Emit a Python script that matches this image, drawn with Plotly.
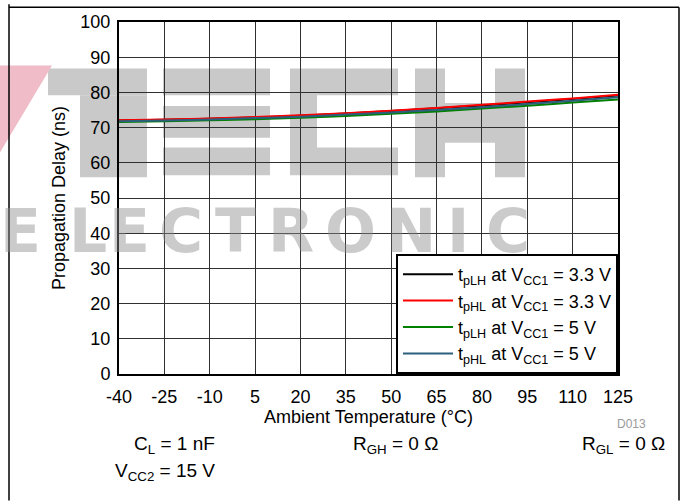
import plotly.graph_objects as go

# ambient temperature (°C) and propagation delay (ns)
temperature = [-40, -25, -10, 5, 20, 35, 50, 65, 80, 95, 110, 125]
tplh_33 = [72.0, 72.2, 72.5, 72.9, 73.4, 74.0, 74.7, 75.5, 76.3, 77.2, 78.1, 79.1]
tphl_33 = [72.1, 72.3, 72.6, 73.0, 73.5, 74.1, 74.8, 75.6, 76.5, 77.4, 78.3, 79.3]
tplh_5 = [71.6, 71.8, 72.1, 72.4, 72.8, 73.3, 73.9, 74.6, 75.4, 76.2, 77.1, 78.0]
tphl_5 = [71.8, 72.0, 72.3, 72.7, 73.1, 73.7, 74.3, 75.0, 75.8, 76.7, 77.6, 78.6]

x_ticks = [-40, -25, -10, 5, 20, 35, 50, 65, 80, 95, 110, 125]
y_ticks = [0, 10, 20, 30, 40, 50, 60, 70, 80, 90, 100]

series = [
    ('t<sub>pLH</sub> at V<sub>CC1</sub> = 3.3 V', tplh_33, '#000000'),
    ('t<sub>pHL</sub> at V<sub>CC1</sub> = 3.3 V', tphl_33, '#ff0000'),
    ('t<sub>pLH</sub> at V<sub>CC1</sub> = 5 V', tplh_5, '#008000'),
    ('t<sub>pHL</sub> at V<sub>CC1</sub> = 5 V', tphl_5, '#2c5f7c'),
]

FONT = 'Arial, Liberation Sans, sans-serif'
WM_GRAY = '#c9c9c9'

fig = go.Figure()
for name, values, color in series:
    fig.add_trace(go.Scatter(x=temperature, y=values, mode='lines', name=name,
                             line=dict(color=color, width=2, shape='spline')))

W, H = 683, 502
L, R, T, B = 119, 65, 18, 128
pw, ph = W - L - R, H - T - B


def px(x):
    return (x - L) / pw


def py(y):
    return (H - B - y) / ph


def block(x0, y0, x1, y1, color=WM_GRAY):
    return dict(type='rect', xref='paper', yref='paper', layer='below',
                x0=px(x0), x1=px(x1), y0=py(y1), y1=py(y0),
                fillcolor=color, line=dict(width=0))


shapes = []
# "TECH" logo blocks of the watermark (pixel boxes)
tech_blocks = [
    (48, 65, 147, 92), (80, 92, 147, 175),
    (163, 65, 270, 92), (163, 103, 270, 135), (163, 145, 270, 173),
    (290, 65, 317, 173), (317, 65, 398, 92), (317, 145, 398, 173),
    (415, 65, 445, 175), (445, 100, 495, 140), (495, 65, 525, 175),
]
for b in tech_blocks:
    shapes.append(block(*b))
shapes.append(dict(type='path', xref='paper', yref='paper', layer='below',
                   path='M %f,%f L %f,%f L %f,%f Z' % (px(0), py(62), px(52), py(62),
                                                       px(0), py(150)),
                   fillcolor='#f0bcc8', line=dict(width=0)))
# outer frame of the figure
for x0, y0, x1, y1 in [(9, 0, 9, 502), (9, 3, 679, 3), (679, 3, 679, 502)]:
    shapes.append(dict(type='line', xref='paper', yref='paper',
                       x0=px(x0), x1=px(x1), y0=py(y0), y1=py(y1),
                       line=dict(color='black', width=1.5)))

annotations = []
# "ELECTRONIC" letters of the watermark, semi transparent so the grid shows through
letters = ['E', 'L', 'E', 'C', 'T', 'R', 'O', 'N', 'I', 'C']
letter_x = [20, 88, 129, 181, 235, 291, 350, 411, 458, 508]
for ch, cx in zip(letters, letter_x):
    annotations.append(dict(text='<b>%s</b>' % ch, x=px(cx), y=py(229), xref='paper',
                            yref='paper', xanchor='center', yanchor='middle',
                            showarrow=False,
                            font=dict(family='DejaVu Sans, sans-serif', size=60,
                                      color='rgba(140,140,140,0.45)')))

notes = [
    ('C<sub>L</sub> = 1 nF', 217, 446, 'right', 19, 'black'),
    ('R<sub>GH</sub> = 0 \u03a9', 395, 446, 'center', 19, 'black'),
    ('R<sub>GL</sub> = 0 \u03a9', 667, 446, 'right', 19, 'black'),
    ('V<sub>CC2</sub> = 15 V', 217, 473, 'right', 19, 'black'),
    ('D013', 631, 425, 'center', 12, '#9a9a9a'),
]
for text, x, y, anchor, size, color in notes:
    annotations.append(dict(text=text, x=px(x), y=py(y), xref='paper', yref='paper',
                            xanchor=anchor, yanchor='middle', showarrow=False,
                            font=dict(family=FONT, size=size, color=color)))

fig.update_layout(
    width=W, height=H,
    margin=dict(l=L, r=R, t=T, b=B),
    paper_bgcolor='white', plot_bgcolor='rgba(0,0,0,0)',
    font=dict(family=FONT, size=18, color='black'),
    showlegend=True,
    legend=dict(x=1.0, y=0.0, xanchor='right', yanchor='bottom',
                bgcolor='white', bordercolor='black', borderwidth=2,
                font=dict(size=18), tracegroupgap=0, itemwidth=50),
    annotations=annotations,
    shapes=shapes,
)
fig.update_xaxes(range=[-40, 125], tickvals=x_ticks, ticktext=[str(v) for v in x_ticks],
                 showgrid=True, gridcolor='#303030', gridwidth=1, zeroline=False,
                 showline=True, linecolor='black', linewidth=2, mirror=True, ticks='',
                 ticklabelstandoff=5,
                 title=dict(text='Ambient Temperature (\u00b0C)', font=dict(size=18), standoff=2),
                 tickfont=dict(size=18))
fig.update_yaxes(range=[0, 100], tickvals=y_ticks, showgrid=True, gridcolor='#303030',
                 gridwidth=1, zeroline=False, showline=True, linecolor='black', linewidth=2,
                 mirror=True, ticks='', ticklabelstandoff=3,
                 title=dict(text='Propagation Delay (ns)', font=dict(size=18), standoff=10),
                 tickfont=dict(size=18))

fig.write_html('out.html', config={'displayModeBar': False},
               post_script="document.body.style.margin='0';")
